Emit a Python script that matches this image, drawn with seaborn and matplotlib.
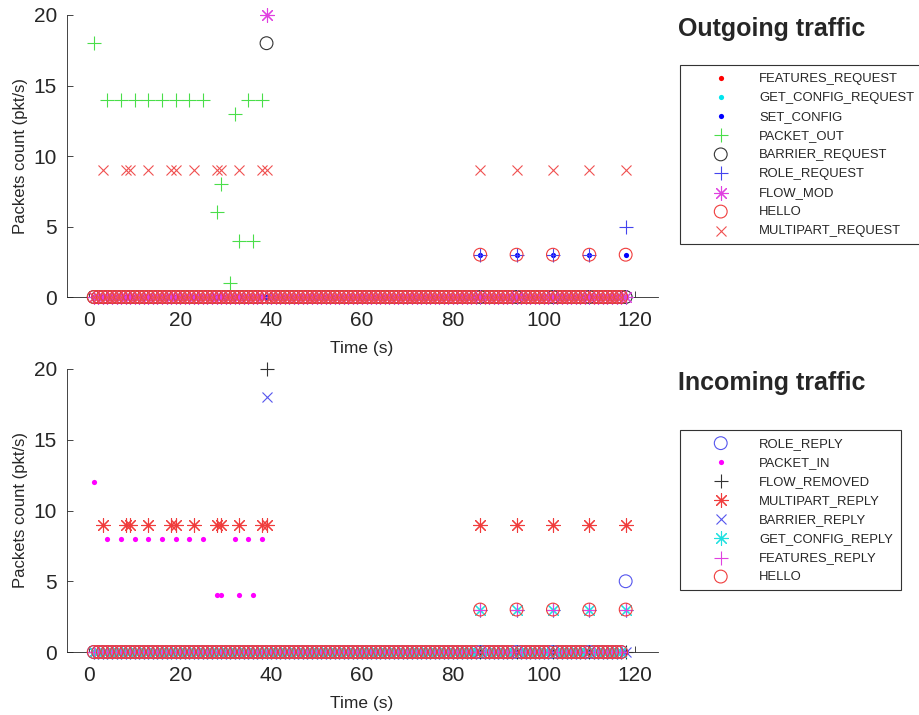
import pandas as pd
import seaborn as sns
import matplotlib.pyplot as plt

sns.set_style("ticks")
plt.rcParams["font.family"] = ["Liberation Sans", "DejaVu Sans"]

# one sample per second
time_s = list(range(1, 119))

# ---- outgoing traffic: nonzero samples (time, pkt/s), everything else is 0
features_request_t, features_request_v = [], []
get_config_request_t, get_config_request_v = [], []
set_config_t = [86, 94, 102, 110, 118]
set_config_v = [3, 3, 3, 3, 3]
packet_out_t = [1, 4, 7, 10, 13, 16, 19, 22, 25, 28, 29, 31, 32, 33, 35, 36, 38]
packet_out_v = [18, 14, 14, 14, 14, 14, 14, 14, 14, 6, 8, 1, 13, 4, 14, 4, 14]
barrier_request_t, barrier_request_v = [39], [18]
role_request_t = [86, 94, 102, 110, 118]
role_request_v = [3, 3, 3, 3, 5]
flow_mod_t, flow_mod_v = [39], [20]
hello_out_t = [86, 94, 102, 110, 118]
hello_out_v = [3, 3, 3, 3, 3]
multipart_request_t = [3, 8, 9, 13, 18, 19, 23, 28, 29, 33, 38, 39, 86, 94, 102, 110, 118]
multipart_request_v = [9] * 17

# ---- incoming traffic
role_reply_t, role_reply_v = [118], [5]
packet_in_t = [1, 4, 7, 10, 13, 16, 19, 22, 25, 28, 29, 32, 33, 35, 36, 38]
packet_in_v = [12, 8, 8, 8, 8, 8, 8, 8, 8, 4, 4, 8, 4, 8, 4, 8]
flow_removed_t, flow_removed_v = [39], [20]
multipart_reply_t = [3, 8, 9, 13, 18, 19, 23, 28, 29, 33, 38, 39, 86, 94, 102, 110, 118]
multipart_reply_v = [9] * 17
barrier_reply_t, barrier_reply_v = [39], [18]
get_config_reply_t = [86, 94, 102, 110, 118]
get_config_reply_v = [3, 3, 3, 3, 3]
features_reply_t = [86, 94, 102, 110, 118]
features_reply_v = [3, 3, 3, 3, 3]
hello_in_t = [86, 94, 102, 110, 118]
hello_in_v = [3, 3, 3, 3, 3]

ASTERISK = (8, 2, 0)

outgoing = [
    ("FEATURES_REQUEST", features_request_t, features_request_v, "dot", "#ff0000"),
    ("GET_CONFIG_REQUEST", get_config_request_t, get_config_request_v, "dot", "#00e5ee"),
    ("SET_CONFIG", set_config_t, set_config_v, "dot", "#0000ff"),
    ("PACKET_OUT", packet_out_t, packet_out_v, "+", "#4ade4a"),
    ("BARRIER_REQUEST", barrier_request_t, barrier_request_v, "o", "#333333"),
    ("ROLE_REQUEST", role_request_t, role_request_v, "+", "#4444ee"),
    ("FLOW_MOD", flow_mod_t, flow_mod_v, ASTERISK, "#e040e0"),
    ("HELLO", hello_out_t, hello_out_v, "o", "#f03c3c"),
    ("MULTIPART_REQUEST", multipart_request_t, multipart_request_v, "x", "#f05050"),
]

incoming = [
    ("ROLE_REPLY", role_reply_t, role_reply_v, "o", "#5555ee"),
    ("PACKET_IN", packet_in_t, packet_in_v, "dot", "#ff00ff"),
    ("FLOW_REMOVED", flow_removed_t, flow_removed_v, "+", "#333333"),
    ("MULTIPART_REPLY", multipart_reply_t, multipart_reply_v, ASTERISK, "#f03c3c"),
    ("BARRIER_REPLY", barrier_reply_t, barrier_reply_v, "x", "#5555ee"),
    ("GET_CONFIG_REPLY", get_config_reply_t, get_config_reply_v, ASTERISK, "#20e0e0"),
    ("FEATURES_REPLY", features_reply_t, features_reply_v, "+", "#e040e0"),
    ("HELLO", hello_in_t, hello_in_v, "o", "#f03c3c"),
]

SIZES = {"dot": 14, "+": 100, "o": 85, "x": 52}


def draw_series(ax, series):
    for label, ts, vs, marker, color in series:
        nz = dict(zip(ts, vs))
        df = pd.DataFrame({"t": time_s, "v": [nz.get(t, 0) for t in time_s]})
        kw = dict(label=label, clip_on=False, zorder=3, color=color)
        if marker == "dot":
            kw.update(marker="o", s=SIZES["dot"], linewidth=0)
        elif marker == "o":
            kw.update(marker="o", s=SIZES["o"], facecolor="none", edgecolor=color, linewidth=0.8)
        elif marker == ASTERISK:
            kw.update(marker=ASTERISK, s=100, linewidth=0.8)
        else:
            kw.update(marker=marker, s=SIZES[marker], linewidth=0.8)
        sns.scatterplot(data=df, x="t", y="v", ax=ax, **kw)


def style_axes(ax):
    ax.set_xlim(-5, 125)
    ax.set_ylim(0, 20)
    ax.set_xticks(range(0, 121, 20))
    ax.set_yticks(range(0, 21, 5))
    ax.tick_params(direction="in", length=4, width=0.6, labelsize=15, colors="#262626")
    ax.tick_params(axis="x", pad=10)
    ax.tick_params(axis="y", pad=7)
    ax.set_xlabel("Time (s)", fontsize=12.5, labelpad=8)
    ax.set_ylabel("Packets count (pkt/s)", fontsize=12, labelpad=4)
    sns.despine(ax=ax)
    for sp in ("left", "bottom"):
        ax.spines[sp].set_linewidth(0.6)
        ax.spines[sp].set_color("#262626")


def add_legend(ax, fig, top_px):
    h, l = ax.get_legend_handles_labels()
    leg = ax.legend(h, l, loc="upper left", bbox_to_anchor=(680 / 919, 1 - top_px / 715),
                    bbox_transform=fig.transFigure, frameon=True, fancybox=False,
                    edgecolor="#333333", framealpha=1, fontsize=9.4, handlelength=5.1,
                    handletextpad=0.4, borderpad=0.57, labelspacing=0.53, borderaxespad=0,
                    scatterpoints=1)
    leg.get_frame().set_linewidth(0.8)


fig = plt.figure(figsize=(9.19, 7.15), dpi=100)
ax_out = fig.add_axes([66.5 / 919, 1 - 297 / 715, 591 / 919, 282 / 715])
ax_in = fig.add_axes([66.5 / 919, 1 - 652 / 715, 591 / 919, 283 / 715])

draw_series(ax_out, outgoing)
draw_series(ax_in, incoming)
style_axes(ax_out)
style_axes(ax_in)
add_legend(ax_out, fig, 65)
add_legend(ax_in, fig, 430)

fig.text(678 / 919, 1 - 29 / 715, "Outgoing traffic", fontsize=18, fontweight="bold", va="center")
fig.text(678 / 919, 1 - 383 / 715, "Incoming traffic", fontsize=18, fontweight="bold", va="center")

fig.savefig("out.png", dpi=100)
plt.close()
